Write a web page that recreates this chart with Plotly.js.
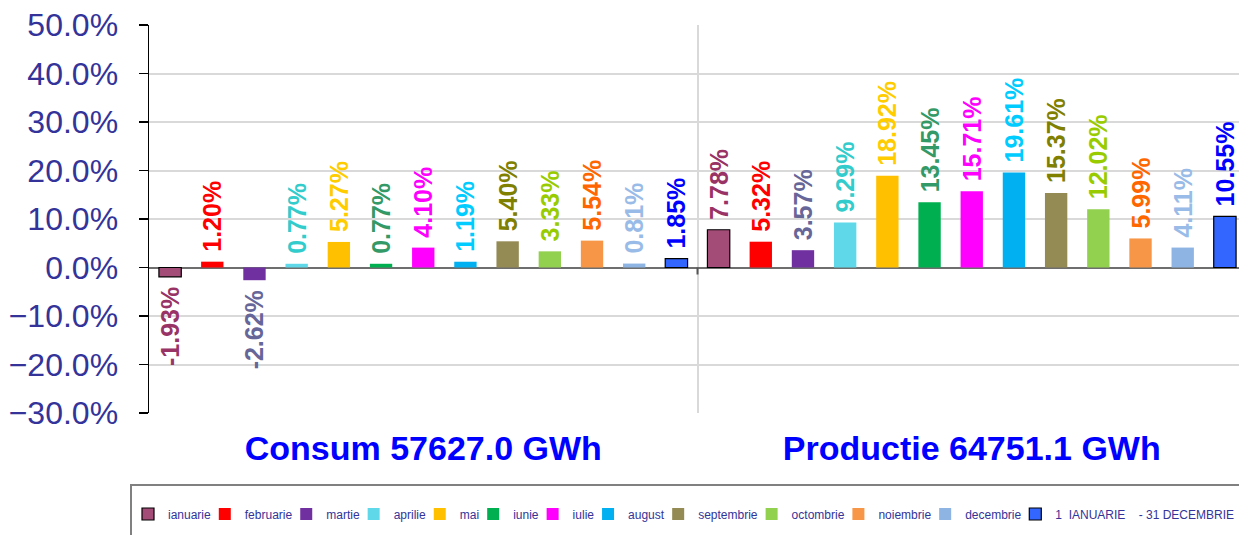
<!DOCTYPE html>
<html>
<head>
<meta charset="utf-8">
<script src="https://cdn.plot.ly/plotly-3.0.1.min.js"></script>
<style>
html, body { margin: 0; padding: 0; overflow: hidden; background: #ffffff; }
</style>
</head>
<body>
<div id="chart" style="width:1250px;height:535px;"></div>
<script>
// ---- data ----
const groups = ['Consum 57627.0 GWh', 'Productie 64751.1 GWh'];
const seriesNames = [
  'ianuarie', 'februarie', 'martie', 'aprilie', 'mai', 'iunie', 'iulie',
  'august', 'septembrie', 'octombrie', 'noiembrie', 'decembrie',
  '1\u00A0\u00A0IANUARIE\u00A0\u00A0\u00A0\u00A0-\u00A031\u00A0DECEMBRIE'
];
const consumValues = [-1.93, 1.20, -2.62, 0.77, 5.27, 0.77, 4.10, 1.19, 5.40, 3.33, 5.54, 0.81, 1.85];
const productieValues = [7.78, 5.32, 3.57, 9.29, 18.92, 13.45, 15.71, 19.61, 15.37, 12.02, 5.99, 4.11, 10.55];

// ---- styles ----
const barColors = ['#A44C78', '#FF0000', '#7030A0', '#5FD9E9', '#FFC000', '#00B050', '#FF00FF',
                   '#00B0F0', '#948A54', '#92D050', '#F79646', '#8DB4E2', '#3366FF'];
const labelColors = ['#993366', '#FF0000', '#666699', '#33CCCC', '#FFCC00', '#339966', '#FF00FF',
                     '#00CCFF', '#808000', '#99CC00', '#FF6600', '#99BBE8', '#0000FF'];
const outlined = [true, false, false, false, false, false, false, false, false, false, false, false, true];

const NB = '\u00A0';
function labelText(v) {
  const s = v.toFixed(2) + '%';
  return v >= 0 ? NB + s : s + NB;
}

const W = 1250, H = 535, ML = 149, MR = 4, MT = 25, MB = 122;
const plotW = W - ML - MR, plotH = H - MT - MB;
const px2x = p => (p - ML) / plotW;
const py2y = p => (H - MB - p) / plotH;

// measure legend text widths so the legend packs across the box like the original
const cv = document.createElement('canvas').getContext('2d');
const legendFontSize = 12;
cv.font = legendFontSize + 'px Arial';
const textW = seriesNames.map(n => cv.measureText(n).width);
const legendStart = 127, legendEnd = 1233;
const sumW = textW.reduce((a, b) => a + b, 0);
const n = seriesNames.length;
const extra = ((legendEnd - legendStart) - (n - 1) * 45 - 40 - sumW) / (n - 1);

const traces = seriesNames.map((name, i) => {
  const vals = [consumValues[i], productieValues[i]];
  const t = {
    type: 'bar',
    name: name,
    x: groups,
    y: vals,
    text: vals.map(labelText),
    textposition: 'outside',
    textangle: -90,
    constraintext: 'none',
    cliponaxis: false,
    textfont: { family: 'Arial, Liberation Sans, sans-serif', size: 25, color: labelColors[i], weight: 'bold' },
    marker: {
      color: barColors[i],
      line: { color: outlined[i] ? '#000000' : barColors[i], width: outlined[i] ? 1.2 : 0 }
    },
    hoverinfo: 'skip'
  };
  if (i < n - 1) t.legendwidth = Math.max(5, textW[i] + extra);
  return t;
});

const layout = {
  width: W,
  height: H,
  margin: { l: ML, r: MR, t: MT, b: MB, autoexpand: false },
  paper_bgcolor: '#ffffff',
  plot_bgcolor: '#ffffff',
  barmode: 'group',
  bargap: 0,
  bargroupgap: 0.47,
  showlegend: true,
  font: { family: 'Arial, Liberation Sans, sans-serif' },
  xaxis: {
    type: 'category',
    tickson: 'boundaries',
    showgrid: true,
    gridcolor: '#D9D9D9',
    gridwidth: 2,
    ticks: '',
    showline: false,
    zeroline: false,
    ticklabelstandoff: 12,
    tickfont: { family: 'Arial, Liberation Sans, sans-serif', size: 34, color: '#0000FF', weight: 'bold' },
    fixedrange: true
  },
  yaxis: {
    range: [-30, 50],
    dtick: 10,
    tick0: 0,
    tickformat: '.1f',
    ticksuffix: '%',
    showgrid: true,
    gridcolor: '#D9D9D9',
    gridwidth: 2,
    zeroline: true,
    zerolinecolor: '#6E6E6E',
    zerolinewidth: 2,
    showline: true,
    linecolor: '#000000',
    linewidth: 1.5,
    ticks: 'outside',
    ticklen: 9,
    tickwidth: 1.5,
    tickcolor: '#000000',
    ticklabelstandoff: 14,
    tickfont: { family: 'Arial, Liberation Sans, sans-serif', size: 32, color: '#333399' },
    fixedrange: true
  },
  legend: {
    orientation: 'h',
    x: px2x(legendStart + 1),
    xanchor: 'left',
    y: py2y(514),
    yanchor: 'middle',
    borderwidth: 0,
    bgcolor: 'rgba(0,0,0,0)',
    font: { family: 'Arial, Liberation Sans, sans-serif', size: legendFontSize, color: '#333399' },
    entrywidthmode: 'pixels',
    itemclick: false,
    itemdoubleclick: false
  },
  shapes: [
    {
      type: 'rect', xref: 'paper', yref: 'paper',
      x0: px2x(131), x1: px2x(1300), y0: py2y(485), y1: py2y(600),
      line: { color: '#808080', width: 2 }, fillcolor: 'rgba(0,0,0,0)'
    },
    {
      type: 'line', xref: 'x', yref: 'y', ysizemode: 'pixel', yanchor: 0,
      x0: 0.5, x1: 0.5, y0: 0, y1: -7,
      line: { color: '#555555', width: 2 }
    }
  ]
};

Plotly.newPlot('chart', traces, layout, { displayModeBar: false, staticPlot: true });
</script>
</body>
</html>
